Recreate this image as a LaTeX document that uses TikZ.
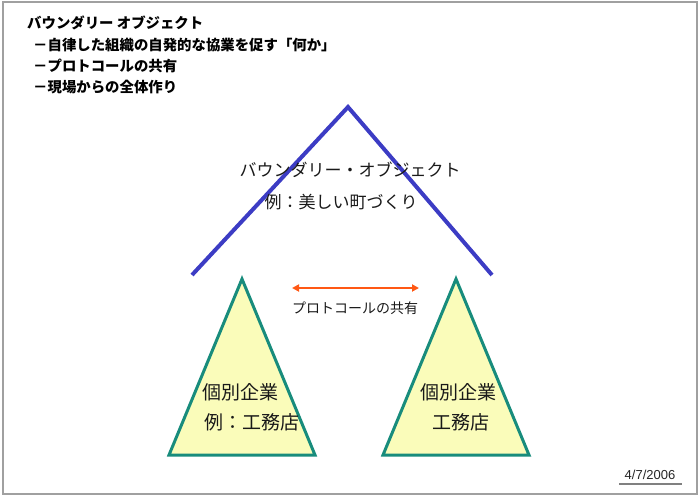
\documentclass[tikz,border=0pt]{standalone}
\usepackage{fontspec}
\setmainfont{Noto Sans CJK JP}
\setsansfont{Liberation Sans}
\usetikzlibrary{arrows.meta,positioning}
\definecolor{bobblue}{RGB}{60,60,196}
\definecolor{firmteal}{RGB}{24,140,124}
\definecolor{firmfill}{RGB}{250,252,186}
\definecolor{protoorange}{RGB}{255,88,20}
\definecolor{framegray}{RGB}{160,160,160}

\begin{document}
\begin{tikzpicture}[
      x=1pt, y=-1pt,
      >={Triangle[length=7pt,width=7pt]},
      head/.style={anchor=west, inner sep=0pt, font=\fontsize{14.4}{16}\selectfont\bfseries, text=black},
      label/.style={inner sep=0pt, font=\fontsize{17}{20}\selectfont, text=black!90},
      firmtext/.style={inner sep=0pt, font=\fontsize{19}{22}\selectfont, text=black!90},
      firm/.style={draw=firmteal, fill=firmfill, line width=3pt, line join=miter},
      boundary/.style={draw=bobblue, line width=4pt},
    ]
      \useasboundingbox (0,0) rectangle (700,500);
      \draw[framegray, line width=2pt] (2.5,2.5) rectangle (696.5,494);

      % header
      \node[head] (h1) at (27,23) {バウンダリー オブジェクト};
      \node[head] (h2) at (33,45) {－自律した組織の自発的な協業を促す「何か」};
      \node[head] (h3) at (33,66) {－プロトコールの共有};
      \node[head] (h4) at (33,87) {－現場からの全体作り};

      % boundary object
      \coordinate (bl) at (192,275);
      \coordinate (top) at (348,107);
      \coordinate (br) at (492,275);
      \draw[boundary] (bl) -- (top) -- (br);
      \node[label] (bob) at (350,170) {バウンダリー・オブジェクト};
      \node[label] (town) at (341,202) {例：美しい町づくり};

      % firms
      \coordinate (atop) at (242,279);
      \coordinate (aleft) at (169,455);
      \coordinate (aright) at (315,455);
      \draw[firm] (atop) -- (aleft) -- (aright) -- cycle;
      \node[firmtext] (a1) at (240,392) {個別企業};
      \node[firmtext] (a2) at (252,422) {例：工務店};

      \coordinate (btop) at (456,279);
      \coordinate (bleft) at (383,455);
      \coordinate (bright) at (529,455);
      \draw[firm] (btop) -- (bleft) -- (bright) -- cycle;
      \node[firmtext] (b1) at (458,392) {個別企業};
      \node[firmtext] (b2) at (461,422) {工務店};

      % protocol
      \coordinate (pl) at (292,288);
      \coordinate (pr) at (419,288);
      \draw[<->, protoorange, line width=2pt] (pl) -- (pr);
      \node[inner sep=0pt, font=\fontsize{14}{16}\selectfont, text=black!90] (proto) at (355,308) {プロトコールの共有};

      % date
      \node[inner sep=0pt, font=\sffamily\fontsize{13}{15}\selectfont, text=black!85] (date) at (650,475) {4/7/2006};
      \coordinate (ul) at (619,484);
      \coordinate (ur) at (682,484);
      \draw[gray, line width=2pt] (ul) -- (ur);
\end{tikzpicture}
\end{document}
